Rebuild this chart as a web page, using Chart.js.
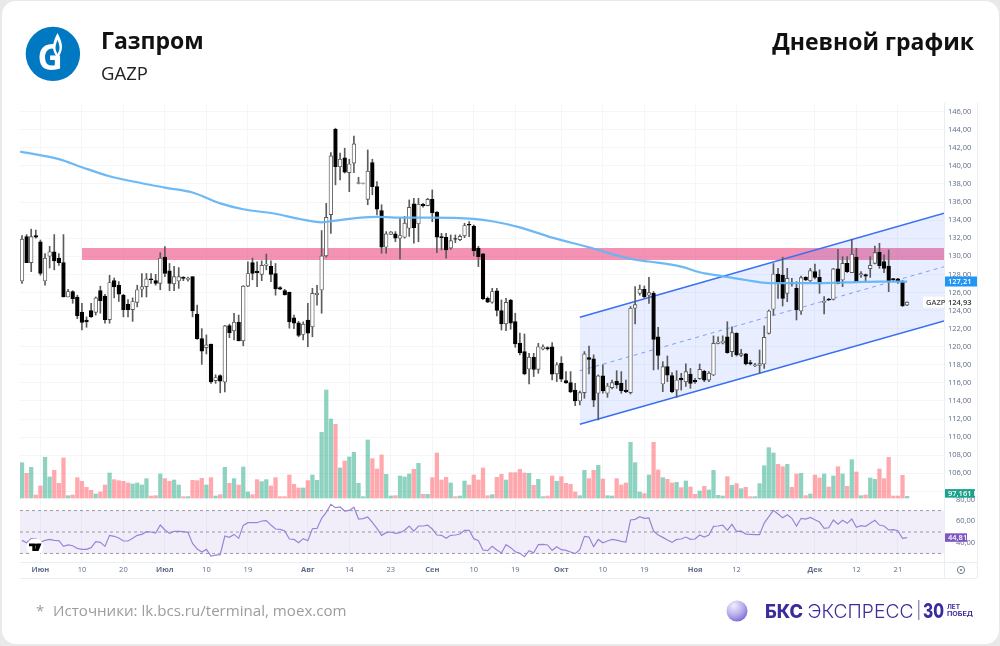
<!DOCTYPE html>
<html lang="ru">
<head>
<meta charset="utf-8">
<title>Газпром</title>
<script src="https://cdn.jsdelivr.net/npm/chart.js@4/dist/chart.umd.min.js"></script>
<style>
  html, body { margin: 0; padding: 0; width: 1000px; height: 646px; overflow: hidden; background: #e9e9ea; font-family: "Open Sans", sans-serif; }
  #card { position: absolute; left: 2px; top: 1px; width: 997px; height: 643px; background: #fff; border-radius: 14px; }
  #studyChart { position: absolute; left: 0; top: 0; }
  .txt { position: absolute; white-space: nowrap; }
  #title { left: 101px; top: 24px; font-size: 23px; font-weight: 700; color: #111; line-height: 32px; }
  #ticker { left: 101px; top: 60px; font-size: 18.5px; color: #222; line-height: 25px; }
  #kind { right: 26px; top: 25px; font-size: 23px; font-weight: 700; color: #111; line-height: 32px; }
  #source { left: 36px; top: 599px; font-size: 15.1px; color: #9c9c9c; line-height: 23px; }
  #source span { display: inline-block; width: 17px; }
  svg.over { position: absolute; left: 0; top: 0; }
</style>
</head>
<body>
<div id="card"></div>
<canvas id="studyChart" width="1000" height="646"></canvas>
<div class="txt" id="title">Газпром</div>
<div class="txt" id="ticker">GAZP</div>
<div class="txt" id="kind">Дневной график</div>
<div class="txt" id="source"><span>*</span>Источники: lk.bcs.ru/terminal, moex.com</div>
<svg class="over" width="1000" height="646" font-family="Inter, 'Open Sans', sans-serif">
  <defs>
    <radialGradient id="ball" cx="0.35" cy="0.25" r="0.9">
      <stop offset="0" stop-color="#f1edfb"/><stop offset="0.5" stop-color="#b9aeec"/><stop offset="1" stop-color="#6657d0"/>
    </radialGradient>
  </defs>
  <circle cx="52.9" cy="53.9" r="27.2" fill="#0079c2"/>
  <text x="37.500" y="70" font-family="'Open Sans', sans-serif" font-size="35" font-weight="700" fill="#fff">G</text>
  <path d="M57.500 33c2.500 5 4.500 9 4.500 14 0 4-2 8-4.500 11-2.500-3-4.500-7-4.500-11 0-5 2-9 4.500-14z" fill="#fff"/>
  <path d="M57.500 40c1.200 3 2 5 2 8 0 2-1 4-2 6-1-2-2-4-2-6 0-3 .8-5 2-8z" fill="#0079c2"/>
  <circle cx="35" cy="547" r="8.500" fill="#fff"/>
  <path d="M29 543.500h6.500v7.500h-3.200v-4.700h-3.300z M36.500 543.500h5l-3 7.500h-3.200z" fill="#000"/>
  <circle cx="36.200" cy="545" r="1.300" fill="#000"/>
  <circle cx="737" cy="611" r="10.500" fill="url(#ball)"/>
  <text x="765" y="617.500" font-size="18.500" font-weight="800" fill="#3a2c9c" textLength="38" lengthAdjust="spacingAndGlyphs">БКС</text>
  <text x="807.500" y="617.500" font-size="18.500" font-weight="300" fill="#3a2c9c" textLength="106" lengthAdjust="spacingAndGlyphs">ЭКСПРЕСС</text>
  <rect x="918.300" y="600" width="1" height="20" fill="#6a5fb5"/>
  <text x="923" y="618" font-size="20" font-weight="800" fill="#3a2c9c" textLength="21" lengthAdjust="spacingAndGlyphs">30</text>
  <text x="947" y="609" font-size="6.800" font-weight="700" fill="#3a2c9c" textLength="13" lengthAdjust="spacingAndGlyphs">ЛЕТ</text>
  <text x="947" y="616" font-size="6.800" font-weight="700" fill="#3a2c9c" textLength="26" lengthAdjust="spacingAndGlyphs">ПОБЕД</text>
</svg>
<script>
const opens = [127.27,132.18,129.3,132.3,131.6,127.27,130,130.5,129.8,129.3,
  125.5,126.1,125.5,123.8,122.95,124,123.8,126.2,125.6,123,
  127.3,126.8,125.7,124.7,124.1,124.9,126.35,126.65,127.5,127.3,
  127,129.9,128.4,126.95,127.27,127.7,127.45,127.75,123.6,120.9,
  119.9,120.3,116.25,116.8,116.1,122.35,121.75,122.7,120.65,126.7,
  129.3,128.35,128,129,128.9,128.1,126.55,126.2,126,123.2,
  122.65,121.35,122.95,122.2,125.75,126.27,130.04,134.6,144.05,139.9,
  140.9,139.25,140.3,138.05,138.05,136.3,140.36,137.7,135.05,131,
  132.43,132.47,132,132.1,133.1,135.8,133.6,135.75,135.6,136.3,
  134.9,132.17,132.1,130.9,131.95,131.84,132.25,133.54,133.35,130.9,
  130.26,125.36,124.92,126.17,124,122.52,125.17,122.78,120.38,119.46,
  117.54,118.83,117.5,119.75,119.9,120,117,118.17,116.25,116.03,
  115.2,114,114.92,118.8,118.65,114.85,116.77,114.85,115.47,116.18,
  115.95,115.2,114.92,124.25,125.9,126.35,125.69,125.9,121.1,115.88,
  117.8,116.8,115.2,116.54,116.13,116.98,116.28,116.47,117.28,116.3,
  116.87,120.37,120.4,121.1,119.45,121.48,119.05,119.2,118.24,117.9,
  117.94,118.09,121.48,124.14,128.04,127.93,125.9,127.1,126.46,123.95,
  127.67,127.3,128.3,127.67,124.9,125.28,125.24,128.6,127.38,129.22,
  128.2,129.9,127.94,127.97,128.63,129.22,130.44,129.41,128.93,127.53,
  127.5,127.2,124.6];
const closes = [131.88,129.3,132.18,132.1,128.1,129.8,130.5,129.5,129.3,125.5,
  126.1,125.3,123.4,122.7,122.75,123.3,125.4,125.1,123,127.1,
  126.6,125.8,124.1,124.1,125,126.3,126.65,127.5,127.4,127,
  129.8,128.1,127,127.75,127.75,127.55,127.55,123.95,120.9,119.5,
  120.2,116.1,116.6,116.2,122.3,121.55,122.7,120.65,126.7,128.1,
  128.1,128.2,129,129.15,128,126.4,126.35,125.75,122.75,122.6,
  121.25,122.5,121.5,125.9,125.9,130.04,134.3,141.1,139.9,140.73,
  139.3,140.2,142.43,138.15,138.1,139.4,137.7,135.2,131,132.47,
  132.7,132,132.3,133.65,135.4,133.17,135.75,135.57,136.3,134.8,
  132.1,132.06,130.7,131.73,131.88,132.2,133.4,133.43,130.63,129.96,
  125.3,124.92,126.1,124,122.52,124.9,122.6,120.3,119.35,117,
  118.83,117.5,120,120,119.75,116.95,118,116.4,116,115,
  114,114.92,119.2,118.6,114.1,116.77,115.1,115.66,116.03,115.77,
  115.14,115.03,124.25,124.66,126.35,125.54,125.98,120.82,119.05,117.8,
  116.84,115.03,116.32,116.32,117.24,115.95,116.1,117.5,116.3,117.06,
  120.37,120.52,120.63,119.34,121.55,119.08,119.23,118.09,118.09,118,
  118.13,121.04,123.95,128.04,127,125.35,127.56,126.94,124.06,127.64,
  127.38,128.41,127.67,126.94,125.02,125.17,128.6,127,129.22,128.3,
  130.22,127.2,128.08,127.79,129,130.4,128.97,128.67,127.31,127.38,
  127.2,124.5,124.93];
const highs = [132.29,132.4,133,132.9,131.8,130.3,131.1,132.4,130.3,132.4,
  126.35,126.2,125.7,124.8,123.3,124.8,125.5,126.7,125.8,127.9,
  127.6,127.2,125.8,125.2,125.4,126.8,128.1,128.1,128.1,128,
  130.4,131.07,129.2,128.9,128.75,127.75,127.7,127.75,124.6,122,
  121.3,120.3,116.9,116.9,122.35,122.5,123.7,123.5,126.75,129.4,
  129.8,129.4,129.5,130.25,129.5,129.2,126.65,126.35,126.05,123.5,
  122.8,122.75,124.8,126.45,126.8,132.84,135.86,141.47,144.16,141.4,
  141.95,140.73,143.3,138.74,138.1,141.76,140.73,138.26,135.7,132.73,
  132.73,132.73,134.2,134.4,136.23,136.4,136.4,135.86,136.4,137.34,
  134.94,132.54,132.54,132.36,132.36,132.36,133.65,133.83,133.46,131.1,
  130.33,125.5,126.46,126.46,125.17,125.36,125.25,123.7,121.5,121.41,
  119.27,119.27,120.38,120.2,120,120.45,118.24,118.9,117.25,117.25,
  115.95,115.1,119.46,120.08,119.1,116.88,118,115.95,116.3,117.35,
  117.25,116.3,124.44,126.65,126.83,126.72,127.68,126.1,122.15,118.35,
  118.98,117.13,117.35,117.06,118.1,117.6,116.5,118.09,117.4,117.24,
  121.2,121.1,121.2,122.77,122.2,121.55,119.7,119.27,118.5,118.15,
  119.64,122.3,124.06,129.2,128.67,129.9,128.67,127.56,127.2,127.8,
  127.75,128.67,129.15,128.5,125.54,125.35,128.67,130.77,129.96,129.96,
  131.88,130.88,128.3,128.04,129.96,131.14,131.44,130.15,130.7,127.56,
  127.56,127.35,124.95];
const lows = [127,129.3,128.3,132,127.9,126.8,128.7,128.5,129,125.5,
  125.5,124.8,123.1,121.85,122.15,123.25,123.5,123.7,122.6,122.6,
  125.4,125,123.3,123.3,122.8,124.4,125.5,125.5,127,126.8,
  126.3,127.75,126.2,126.2,126.45,127.3,127.25,123.3,120.8,118.05,
  119.2,115.95,115.95,114.9,115,121,120.75,120.65,120.1,126.65,
  127.4,126.65,127.3,128.5,127.2,125.7,126.3,125.7,122.05,122,
  121.1,120.75,120,121.1,124.6,123.7,129.9,132.54,137.9,138.45,
  139.2,137.15,139.25,138,138,135.7,136.8,134.57,130.33,130.33,
  132.4,131.62,129.67,132,132.2,131.44,131.6,135.42,135.57,133.83,
  130.4,130.7,129.78,130.77,131.5,131.73,132.06,132.17,130.04,128.86,
  125.2,124.88,124.8,123.4,121.85,121.78,121.93,119.94,119.1,116.9,
  115.88,116.7,117.06,119.64,119.64,116.32,116.14,116.14,115.95,114.92,
  113.48,113.56,114.3,117,113.37,111.9,114.85,114.4,115.33,115.4,
  114.85,114.92,114.77,122.52,125.7,125.36,124.8,117.43,117.5,115.03,
  116.14,114.92,114.4,115.2,115.6,115.4,115.95,116.4,116.13,116.13,
  116.8,120.3,120.3,119.27,118.9,118.97,118.9,117.98,117.98,117.8,
  117.06,117.6,121.4,123.5,125.35,124.5,124.98,126.7,122.96,123.58,
  127.3,127.2,127.5,125.9,123.62,125.1,125.17,126.94,126.64,128.2,
  128.2,127.08,127.67,127.2,127.67,129.15,128.67,128.2,126.09,127.2,
  127,124.45,124.55];
const volumes = [2120,1480,1840,180,720,2440,1260,1660,880,2400,
  140,180,1220,1000,640,460,240,360,780,1500,
  1100,1040,1000,900,840,900,780,1160,120,140,
  1440,1160,1000,1080,780,80,80,1060,1040,1180,
  780,1220,120,200,1840,880,1160,780,1860,360,
  200,1100,980,1100,720,1220,80,80,1380,820,
  600,600,1040,1380,1060,3940,6480,4740,4420,1800,
  2220,2460,2740,880,80,3480,2360,1740,2580,1420,
  120,140,1320,1260,1440,1720,2080,220,220,1220,
  2700,1080,1240,900,80,120,1020,780,1380,1080,
  1800,140,200,1240,1420,1080,1520,1520,1720,1500,
  1480,760,1120,80,120,1320,1000,1280,880,820,
  360,140,1660,1160,1660,1960,1140,140,120,1160,
  780,900,3340,2120,360,260,1380,3340,1680,1220,
  1120,900,940,620,1020,660,220,420,700,480,
  1660,160,120,1280,760,860,560,640,80,80,
  860,1940,3020,2700,2020,1880,2020,640,1440,1480,
  140,240,1380,1200,1440,660,1320,1880,1440,700,
  2300,1560,140,180,1200,1120,1740,1160,2440,120,
  120,1360,97.161];
const rsiValues = [42.2,40,43.8,43.8,40.3,42.2,43.1,42.2,41.9,36.6,
  37.9,37.2,34.7,33.8,33.8,35.4,41,40.3,36.6,46.9,
  46,44.4,41.6,41.6,44.1,46.9,47.8,50.3,50,49.1,
  56.5,51.9,48.8,50.6,50.6,50.3,49.7,39.4,34.1,31.3,
  33.8,27.6,28.5,28.8,46.3,45,47.8,44.1,56.2,58.7,
  58.7,58.7,60.3,60.6,56.5,52.8,52.5,50.9,43.5,43.1,
  40,43.8,41.9,53.1,53.4,62.8,68.4,75.9,72.7,73.4,
  69.6,70.2,73.1,62.1,62.5,64,59,53.4,46.9,49.4,
  50,48.8,49.4,51.6,55.6,50.9,55.6,55.6,56.5,52.8,
  47.2,46.9,44.1,46.9,47.2,48.1,51.6,51.6,43.8,41.9,
  33.2,32.6,36.6,33.2,30.4,38.2,35.4,31.6,30.1,27,
  32.6,30.7,38.2,38.5,37.9,32.9,36.3,33.5,32.9,31.3,
  29.8,33.5,46,45.3,36.3,43.1,40,41.6,43.1,42.5,
  41.3,40.7,61.2,61.8,64.3,62.8,63.1,50.9,47.2,45,
  42.5,40.3,43.1,43.5,45.3,43.1,43.5,47.2,45.3,47.2,
  55.3,55.6,56.5,51.6,57.2,50.6,50.9,48.1,47.8,47.5,
  47.5,58.4,64.3,70.2,66.8,63.4,66.2,62.8,55.6,62.8,
  62.1,63.7,61.5,59.3,53.4,54,61.2,57.2,60.9,58.1,
  62.1,54.4,55.9,55.3,58.1,60.9,56.5,55.6,51.9,52.2,
  51.2,44.1,44.81];

// moving average at these bars only
const maBars = [-0.4,8,13,19,26,31,37,43,48,55,60,65,68,73,77,83,88,98,102,108,115,123,130,133,136,143,147,152,157,162,168,173,179,186,192];
const maValues = [141.58,140.75,139.85,138.85,138.08,137.6,137.05,135.85,135.2,134.7,134.15,133.76,133.95,134.24,134.35,134.27,134.27,134.13,133.87,133.2,132.06,131,129.96,129.62,129.42,128.86,128.23,127.79,127.38,127.04,127.04,127.04,127.12,127.2,127.2];

const zoneBars = [13, 200];
const zoneHigh = [130.92, 130.92];
const zoneLow = [129.6, 129.6];
const channelBars = [121, 200];
const channelUpper = [123.26, 134.76];
const channelMiddle = [117.34, 128.85];
const channelLower = [111.42, 122.85];
const rsiLevels = [70, 50, 30];

const tickBars = [4, 13, 22, 31, 40, 49, 62, 71, 80, 89, 98, 107, 117, 126, 135, 146, 155, 172, 181, 190];
const tickLabels = ["Июн", "10", "20", "Июл", "10", "19", "Авг", "14", "23", "Сен", "10", "19", "Окт", "10", "19", "Ноя", "12", "Дек", "12", "21"];

const xMin = -0.43;
const xMax = 200;
const gridColor = "#f4f6fa";
const tickColor = "#5f6c8a";
const fontFamily = "'Open Sans', sans-serif";

function points(xs, ys) {
  return xs.map((x, i) => ({ x: x, y: ys[i] }));
}

function levelLine(value) {
  return {
    type: "line",
    yAxisID: "yRsi",
    data: points([xMin, xMax], [value, value]),
    borderColor: "rgba(120, 123, 134, 0.75)",
    borderWidth: 1,
    borderDash: [3, 3],
    pointRadius: 0,
    order: 8,
  };
}

function commaFormat(value) {
  return Number(value).toFixed(2).replace(".", ",");
}

const bars = opens.map((_, i) => i);
const isUp = closes.map((c, i) => c >= opens[i]);

function drawTag(ctx, x, y, w, h, fill, text, color) {
  ctx.fillStyle = fill;
  ctx.fillRect(x, y - h / 2, w, h);
  ctx.fillStyle = color;
  ctx.textAlign = "left";
  ctx.textBaseline = "middle";
  ctx.fillText(text, x + 3, y + 0.5);
}

const paneFrame = {
  id: "paneFrame",
  afterDraw(chart) {
    const { ctx, chartArea, scales } = chart;
    const right = chartArea.right;
    const bottom = chartArea.bottom;
    ctx.save();
    ctx.strokeStyle = "#e9edf4";
    ctx.lineWidth = 1;
    ctx.beginPath();
    ctx.moveTo(right + 0.5, chartArea.top);
    ctx.lineTo(right + 0.5, bottom + 16);
    ctx.moveTo(right + 33.5, chartArea.top);
    ctx.lineTo(right + 33.5, bottom + 16);
    ctx.moveTo(chartArea.left, bottom + 0.5);
    ctx.lineTo(right + 33, bottom + 0.5);
    ctx.moveTo(chartArea.left, bottom + 16.5);
    ctx.lineTo(right + 33, bottom + 16.5);
    ctx.stroke();

    ctx.font = "600 7.5px " + fontFamily;
    drawTag(ctx, right + 1, scales.y.getPixelForValue(127.21), 32, 10, "#2196f3", commaFormat(127.21), "#fff");
    const closeY = scales.y.getPixelForValue(closes[closes.length - 1]);
    drawTag(ctx, right - 21, closeY, 21, 11, "#fff", "GAZP", "#444");
    drawTag(ctx, right + 1, closeY, 32, 11, "#fff", commaFormat(closes[closes.length - 1]), "#333");
    drawTag(ctx, right + 1, scales.yVol.getPixelForValue(volumes[volumes.length - 1]) - 3, 30, 8.5, "#1aa38a", "97,161 M", "#fff");
    drawTag(ctx, right + 1, scales.yRsi.getPixelForValue(rsiValues[rsiValues.length - 1]), 22, 8.5, "#7e57c2", commaFormat(rsiValues[rsiValues.length - 1]), "#fff");

    // settings icon in the axis corner
    ctx.strokeStyle = "#6f7a8c";
    ctx.lineWidth = 1;
    ctx.beginPath();
    ctx.arc(961, 570, 3.6, 0, Math.PI * 2);
    ctx.stroke();
    ctx.fillStyle = "#6f7a8c";
    ctx.beginPath();
    ctx.arc(961, 570, 1.1, 0, Math.PI * 2);
    ctx.fill();
    ctx.restore();
  },
};

new Chart(document.getElementById("studyChart"), {
  type: "bar",
  plugins: [paneFrame],
  data: {
    datasets: [
      {
        type: "line",
        yAxisID: "yRsi",
        data: rsiValues.map((v, i) => ({ x: i, y: v })),
        borderColor: "#9b84d8",
        borderWidth: 1.2,
        pointRadius: 0,
        order: 1,
      },
      {
        type: "line",
        data: points(maBars, maValues),
        borderColor: "rgba(100, 181, 246, 0.95)",
        borderWidth: 2.2,
        cubicInterpolationMode: "monotone",
        pointRadius: 0,
        order: 2,
      },
      {
        data: bars.map((i) => ({ x: i, y: [opens[i], closes[i]] })),
        barThickness: 3.7,
        grouped: false,
        borderSkipped: false,
        borderWidth: 0.9,
        borderColor: bars.map((i) => (isUp[i] ? "#5a5a5a" : "#000")),
        backgroundColor: bars.map((i) => (isUp[i] ? "#fff" : "#000")),
        order: 3,
      },
      {
        data: bars.map((i) => ({ x: i, y: [lows[i], highs[i]] })),
        barThickness: 1,
        grouped: false,
        backgroundColor: "#5c5c5c",
        order: 4,
      },
      {
        type: "line",
        data: points(channelBars, channelUpper),
        borderColor: "#3a70f2",
        borderWidth: 1.5,
        backgroundColor: "rgba(41, 98, 255, 0.11)",
        fill: "+2",
        pointRadius: 0,
        order: 5,
      },
      {
        type: "line",
        data: points(channelBars, channelMiddle),
        borderColor: "#86a6f5",
        borderWidth: 1,
        borderDash: [4, 4],
        pointRadius: 0,
        order: 5,
      },
      {
        type: "line",
        data: points(channelBars, channelLower),
        borderColor: "#3a70f2",
        borderWidth: 1.5,
        pointRadius: 0,
        order: 5,
      },
      {
        type: "line",
        data: points(zoneBars, zoneHigh),
        borderWidth: 0,
        backgroundColor: "rgba(236, 64, 122, 0.57)",
        fill: "+1",
        pointRadius: 0,
        order: 6,
      },
      {
        type: "line",
        data: points(zoneBars, zoneLow),
        borderWidth: 0,
        pointRadius: 0,
        order: 6,
      },
      {
        yAxisID: "yVol",
        data: bars.map((i) => ({ x: i, y: volumes[i] })),
        barThickness: 3.6,
        grouped: false,
        backgroundColor: bars.map((i) => (isUp[i] ? "rgba(30, 165, 130, 0.5)" : "rgba(255, 82, 92, 0.5)")),
        order: 7,
      },
      Object.assign(levelLine(rsiLevels[0]), {
        fill: "+2",
        backgroundColor: "rgba(126, 87, 194, 0.1)",
      }),
      levelLine(rsiLevels[1]),
      levelLine(rsiLevels[2]),
    ],
  },
  options: {
    responsive: false,
    animation: false,
    events: [],
    layout: { autoPadding: false, padding: { left: 20, top: 103, right: 23, bottom: 68 } },
    plugins: {
      legend: { display: false },
      title: { display: false },
      tooltip: { enabled: false },
    },
    scales: {
      x: {
        type: "linear",
        offset: false,
        min: xMin,
        max: xMax,
        afterBuildTicks: (scale) => {
          scale.ticks = tickBars.map((v) => ({ value: v }));
        },
        afterFit: (scale) => {
          scale.height = 16;
        },
        grid: { color: gridColor, drawTicks: false, offset: false },
        border: { display: false },
        ticks: {
          autoSkip: false,
          maxRotation: 0,
          padding: 3,
          color: tickColor,
          font: (ctx) => ({
            family: fontFamily,
            size: 7.5,
            weight: isNaN(tickLabels[ctx.index]) ? "700" : "500",
          }),
          callback: (value) => tickLabels[tickBars.indexOf(value)],
        },
      },
      y: {
        position: "right",
        stack: "panes",
        stackWeight: 396,
        min: 103.16,
        max: 146.95,
        afterFit: (scale) => {
          scale.width = 33;
        },
        grid: { color: gridColor, drawTicks: false },
        border: { display: false },
        ticks: {
          stepSize: 2,
          autoSkip: false,
          includeBounds: false,
          padding: 4,
          color: tickColor,
          font: { family: fontFamily, size: 7.5, weight: "500" },
          callback: (value) => commaFormat(value),
        },
      },
      yRsi: {
        position: "right",
        stack: "panes",
        stackWeight: 63,
        min: 22,
        max: 80.84,
        afterFit: (scale) => {
          scale.width = 33;
        },
        grid: { display: false },
        border: { display: false },
        ticks: {
          stepSize: 20,
          autoSkip: false,
          includeBounds: false,
          padding: 4,
          color: tickColor,
          font: { family: fontFamily, size: 7.5, weight: "500" },
          callback: (value) => commaFormat(value),
        },
      },
      yVol: {
        display: false,
        min: -3840,
        max: 23700,
      },
    },
  },
});
</script>
</body>
</html>
